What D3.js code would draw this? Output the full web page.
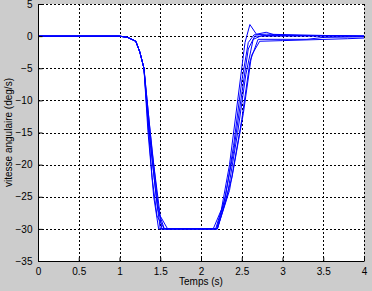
<!DOCTYPE html>
<html lang="en">
<head>
<meta charset="UTF-8">
<title>vitesse angulaire</title>
<script src="https://d3js.org/d3.v7.min.js"></script>
<style>
    body { margin: 0; overflow: hidden; background: #cccccc; }
    .tick text { font-family: "Liberation Sans", Arial, sans-serif; font-size: 10px; fill: #000; }
    .lbl { font-family: "Liberation Sans", Arial, sans-serif; font-size: 10px; fill: #000; }
</style>
</head>
<body>
<div id="chart"></div>
<script>
    const width = 372;
    const height = 291;

    const xTicks = [0, 0.5, 1, 1.5, 2, 2.5, 3, 3.5, 4];
    const yTicks = [-35, -30, -25, -20, -15, -10, -5, 0, 5];

    // each run: [temps, vitesse]
    const run1 = [[0,0],[1.0,0],[1.1,-0.2],[1.2,-0.8],[1.25,-2.5],[1.3,-5],[1.35,-15],[1.42,-25],[1.48,-30],[2.15,-30],[2.25,-27],[2.35,-20],[2.45,-10],[2.54,-1],[2.6,1.8],[2.68,0.3],[2.8,0.6],[2.9,0.2],[3.2,0.1],[4,0]];
    const run2 = [[0,0],[1.0,0],[1.1,-0.2],[1.2,-0.8],[1.25,-2.5],[1.3,-5],[1.35,-13],[1.45,-25],[1.5,-30],[2.18,-30],[2.3,-25],[2.4,-17],[2.5,-7],[2.58,-1],[2.65,0.2],[2.8,0.3],[3.5,0.1],[4,0]];
    const run3 = [[0,0],[1.0,0],[1.1,-0.2],[1.2,-0.8],[1.25,-2.5],[1.3,-5],[1.37,-14],[1.47,-26],[1.52,-30],[2.2,-30],[2.32,-25],[2.45,-15],[2.55,-6],[2.64,-0.5],[2.75,0.1],[3.5,0.1],[4,0]];
    const run4 = [[0,0],[1.0,0],[1.1,-0.2],[1.2,-0.8],[1.25,-2.5],[1.3,-5],[1.4,-18],[1.5,-28],[1.59,-30],[2.2,-30],[2.35,-24],[2.5,-13],[2.6,-4],[2.7,-0.5],[3.3,-0.5],[3.5,-0.2],[4,-0.1]];
    const run5 = [[0,0],[1.0,0],[1.1,-0.2],[1.2,-0.8],[1.25,-2.5],[1.3,-5],[1.38,-17],[1.47,-27],[1.55,-30],[2.2,-30],[2.38,-22],[2.52,-12],[2.62,-3],[2.72,-0.8],[3.0,-0.7],[3.8,-0.4],[4,-0.3]];
    const run6 = [[0,0],[1.0,0],[1.1,-0.2],[1.2,-0.8],[1.25,-2.5],[1.3,-5],[1.34,-12],[1.4,-22],[1.46,-28],[1.55,-30],[2.19,-30],[2.28,-26],[2.4,-18],[2.5,-9],[2.58,-2],[2.66,0],[4,0]];
    const runs = [run1, run2, run3, run4, run5, run6];

    const margin = { left: 38, right: 8, top: 4, bottom: 30 };

    const svg = d3.select("#chart")
        .append("svg")
        .attr("width", width)
        .attr("height", height);

    const x = d3.scaleLinear().domain([0, 4]).range([margin.left, width - margin.right]);
    const y = d3.scaleLinear().domain([-35, 5]).range([height - margin.bottom, margin.top]);

    svg.append("rect")
        .attr("x", x(0)).attr("y", y(5))
        .attr("width", x(4) - x(0)).attr("height", y(-35) - y(5))
        .attr("fill", "#fff");

    // grid
    const grid = svg.append("g").attr("stroke", "#000").attr("stroke-dasharray", "2,2").attr("stroke-width", 1);
    grid.selectAll(".gx").data(xTicks.slice(1)).enter().append("line")
        .attr("x1", d => Math.round(x(d)) + 0.5).attr("x2", d => Math.round(x(d)) + 0.5)
        .attr("y1", y(5)).attr("y2", y(-35));
    grid.selectAll(".gy").data(yTicks.slice(1)).enter().append("line")
        .attr("y1", d => Math.round(y(d)) + 0.5).attr("y2", d => Math.round(y(d)) + 0.5)
        .attr("x1", x(0)).attr("x2", x(4));

    const line = d3.line().x(d => x(d[0])).y(d => y(d[1]));
    svg.append("g").selectAll("path")
        .data(runs).enter().append("path")
        .attr("d", line)
        .attr("fill", "none")
        .attr("stroke", "#0000ff")
        .attr("stroke-width", 1);

    const xAxis = d3.axisBottom(x).tickValues(xTicks).tickFormat(d3.format("")).tickSize(-4).tickPadding(6);
    const yAxis = d3.axisLeft(y).tickValues(yTicks).tickSize(-4).tickPadding(6);

    svg.append("g")
        .attr("transform", `translate(0,${Math.round(y(-35)) + 0.5})`)
        .call(xAxis)
        .call(g => g.select(".domain").attr("d", `M${x(0)},0H${x(4)}`));
    svg.append("g")
        .attr("transform", `translate(${Math.round(x(0)) + 0.5},0)`)
        .call(yAxis)
        .call(g => g.select(".domain").attr("d", `M0,${y(5)}V${y(-35)}`));

    svg.append("text").attr("class", "lbl")
        .attr("x", (x(0) + x(4)) / 2).attr("y", 285)
        .attr("text-anchor", "middle")
        .text("Temps (s)");

    svg.append("text").attr("class", "lbl")
        .attr("transform", `translate(12,${(y(5) + y(-35)) / 2}) rotate(-90)`)
        .attr("text-anchor", "middle")
        .text("vitesse angulaire (deg/s)");
</script>
</body>
</html>
